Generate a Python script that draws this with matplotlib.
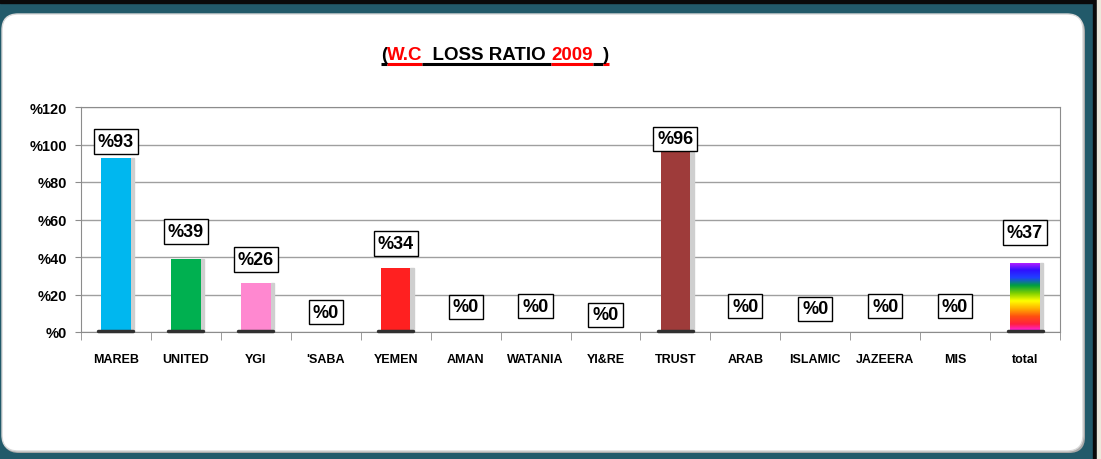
import matplotlib
matplotlib.use("Agg")
import matplotlib.pyplot as plt
import numpy as np
from matplotlib.patches import FancyBboxPatch, Rectangle
from matplotlib.colors import LinearSegmentedColormap

companies = ["MAREB", "UNITED", "YGI", "'SABA", "YEMEN", "AMAN", "WATANIA", "YI&RE",
             "TRUST", "ARAB", "ISLAMIC", "JAZEERA", "MIS", "total"]
loss_ratio = [93, 39, 26, 0, 34, 0, 0, 0, 96, 0, 0, 0, 0, 37]
bar_colors = ["#00b7ef", "#00b050", "#ff88d0", "#ff2020", "#ff2020", "#ff2020", "#ff2020",
              "#ff2020", "#9e3b3a", "#ff2020", "#ff2020", "#ff2020", "#ff2020", "#ffffff"]
# label box offset above bar top, in pixels
label_dy = [16, 27, 24, 20, 25, 25, 26, 17, 13, 26, 23, 26, 26, 30]
yticks = [0, 20, 40, 60, 80, 100, 120]

TEAL = "#225a6a"
W, H = 1101, 460
fig = plt.figure(figsize=(W / 100, H / 100), dpi=100)
fig.patch.set_facecolor(TEAL)

# background frame in pixel coordinates
bg = fig.add_axes([0, 0, 1, 1]); bg.set_xlim(0, W); bg.set_ylim(H, 0); bg.axis("off")
bg.add_patch(Rectangle((0, 0), W, 4, color="#0a0a0a"))
bg.add_patch(Rectangle((1093, 0), 4, H, color="#0a0a0a"))
bg.add_patch(Rectangle((1097, 0), 4, H, color="#ece9dc"))
bg.add_patch(FancyBboxPatch((3, 17), 1082, 437, boxstyle="round,pad=0,rounding_size=16",
                            facecolor="#a8a8a8", edgecolor="none"))
bg.add_patch(FancyBboxPatch((2, 15), 1081, 437, boxstyle="round,pad=0,rounding_size=16",
                            facecolor="white", edgecolor="#d8d8d8", linewidth=1))

# title with coloured pieces and underline
pieces = [("(", "black", "black"), ("W.C", "red", "red"), ("  LOSS RATIO ", "black", "black"),
          ("2009", "red", "red"), ("  ", "black", "black"), (")", "black", "red")]
fig.canvas.draw()
r = fig.canvas.get_renderer()
texts = []
x = 0
for s, tc, uc in pieces:
    t = bg.text(x, 55, s, color=tc, fontsize=13.5, fontweight="bold", va="center", ha="left",
                family="Liberation Sans")
    texts.append(t)
    x += t.get_window_extent(r).width
x0 = 495 - x / 2
x = x0
for (s, tc, uc), t in zip(pieces, texts):
    t.set_x(x)
    wdt = t.get_window_extent(r).width
    bg.plot([x, x + wdt], [64.5, 64.5], color=uc, lw=2.2, solid_capstyle="butt")
    x += wdt

# main chart
ax = fig.add_axes([81 / W, (H - 333) / H, 979 / W, 225 / H])
ax.set_xlim(-0.5, len(companies) - 0.5)
ax.set_ylim(0, 120)
ax.set_facecolor("white")
xs = np.arange(len(companies))
ax.yaxis.grid(True, color="#9f9f9f", lw=1)
ax.set_axisbelow(True)
for sp in ax.spines.values():
    sp.set_color("#8c8c8c")
ax.set_yticks(yticks)
ax.set_yticklabels(["%" + str(v) for v in yticks], fontsize=10.5, fontweight="bold",
                   family="Liberation Sans")
ax.set_xticks(xs)
ax.set_xticklabels(companies, fontsize=9, fontweight="bold", family="Liberation Sans")
ax.set_xticks(np.arange(-0.5, len(companies), 1), minor=True)
ax.tick_params(axis="x", which="major", length=0, pad=15)
ax.tick_params(axis="x", which="minor", length=6, color="#8c8c8c", direction="out")
ax.tick_params(axis="y", length=4, color="#8c8c8c", pad=6)

bw = 0.42
bars = ax.bar(xs, loss_ratio, width=bw, color=bar_colors, edgecolor="none", zorder=3)
rainbow = LinearSegmentedColormap.from_list(
    "rb", ["#ff20ff", "#ff2040", "#ff5010", "#ffb000", "#ffff00", "#80d000",
           "#00a040", "#2040ff", "#3010ff", "#c020ff"])
for i, (b, v) in enumerate(zip(bars, loss_ratio)):
    if v == 0:
        continue
    # soft shadow on the right side
    ax.add_patch(Rectangle((xs[i] + bw / 2, 0), 0.05, v, color="#cfcfcf", zorder=2))
    if companies[i] == "total":
        b.set_facecolor("none")
        im = ax.imshow(np.linspace(0, 1, 200).reshape(-1, 1), cmap=rainbow, aspect="auto",
                       extent=(xs[i] - bw / 2, xs[i] + bw / 2, 0, v), origin="lower", zorder=3)
        im.set_clip_path(b)
    ax.plot([xs[i] - bw / 2 - 0.04, xs[i] + bw / 2 + 0.04], [0.4, 0.4], color="#303030",
            lw=2.5, zorder=4, solid_capstyle="round", clip_on=False)

px = 120 / 225
for i, v in enumerate(loss_ratio):
    ax.text(xs[i], v + label_dy[i] * px, "%" + str(v), ha="center", va="center",
            fontsize=13, fontweight="bold", family="Liberation Sans", zorder=5,
            bbox=dict(boxstyle="square,pad=0.22", facecolor="white", edgecolor="black", lw=1))

fig.savefig("out.png", dpi=100, facecolor=fig.get_facecolor())
